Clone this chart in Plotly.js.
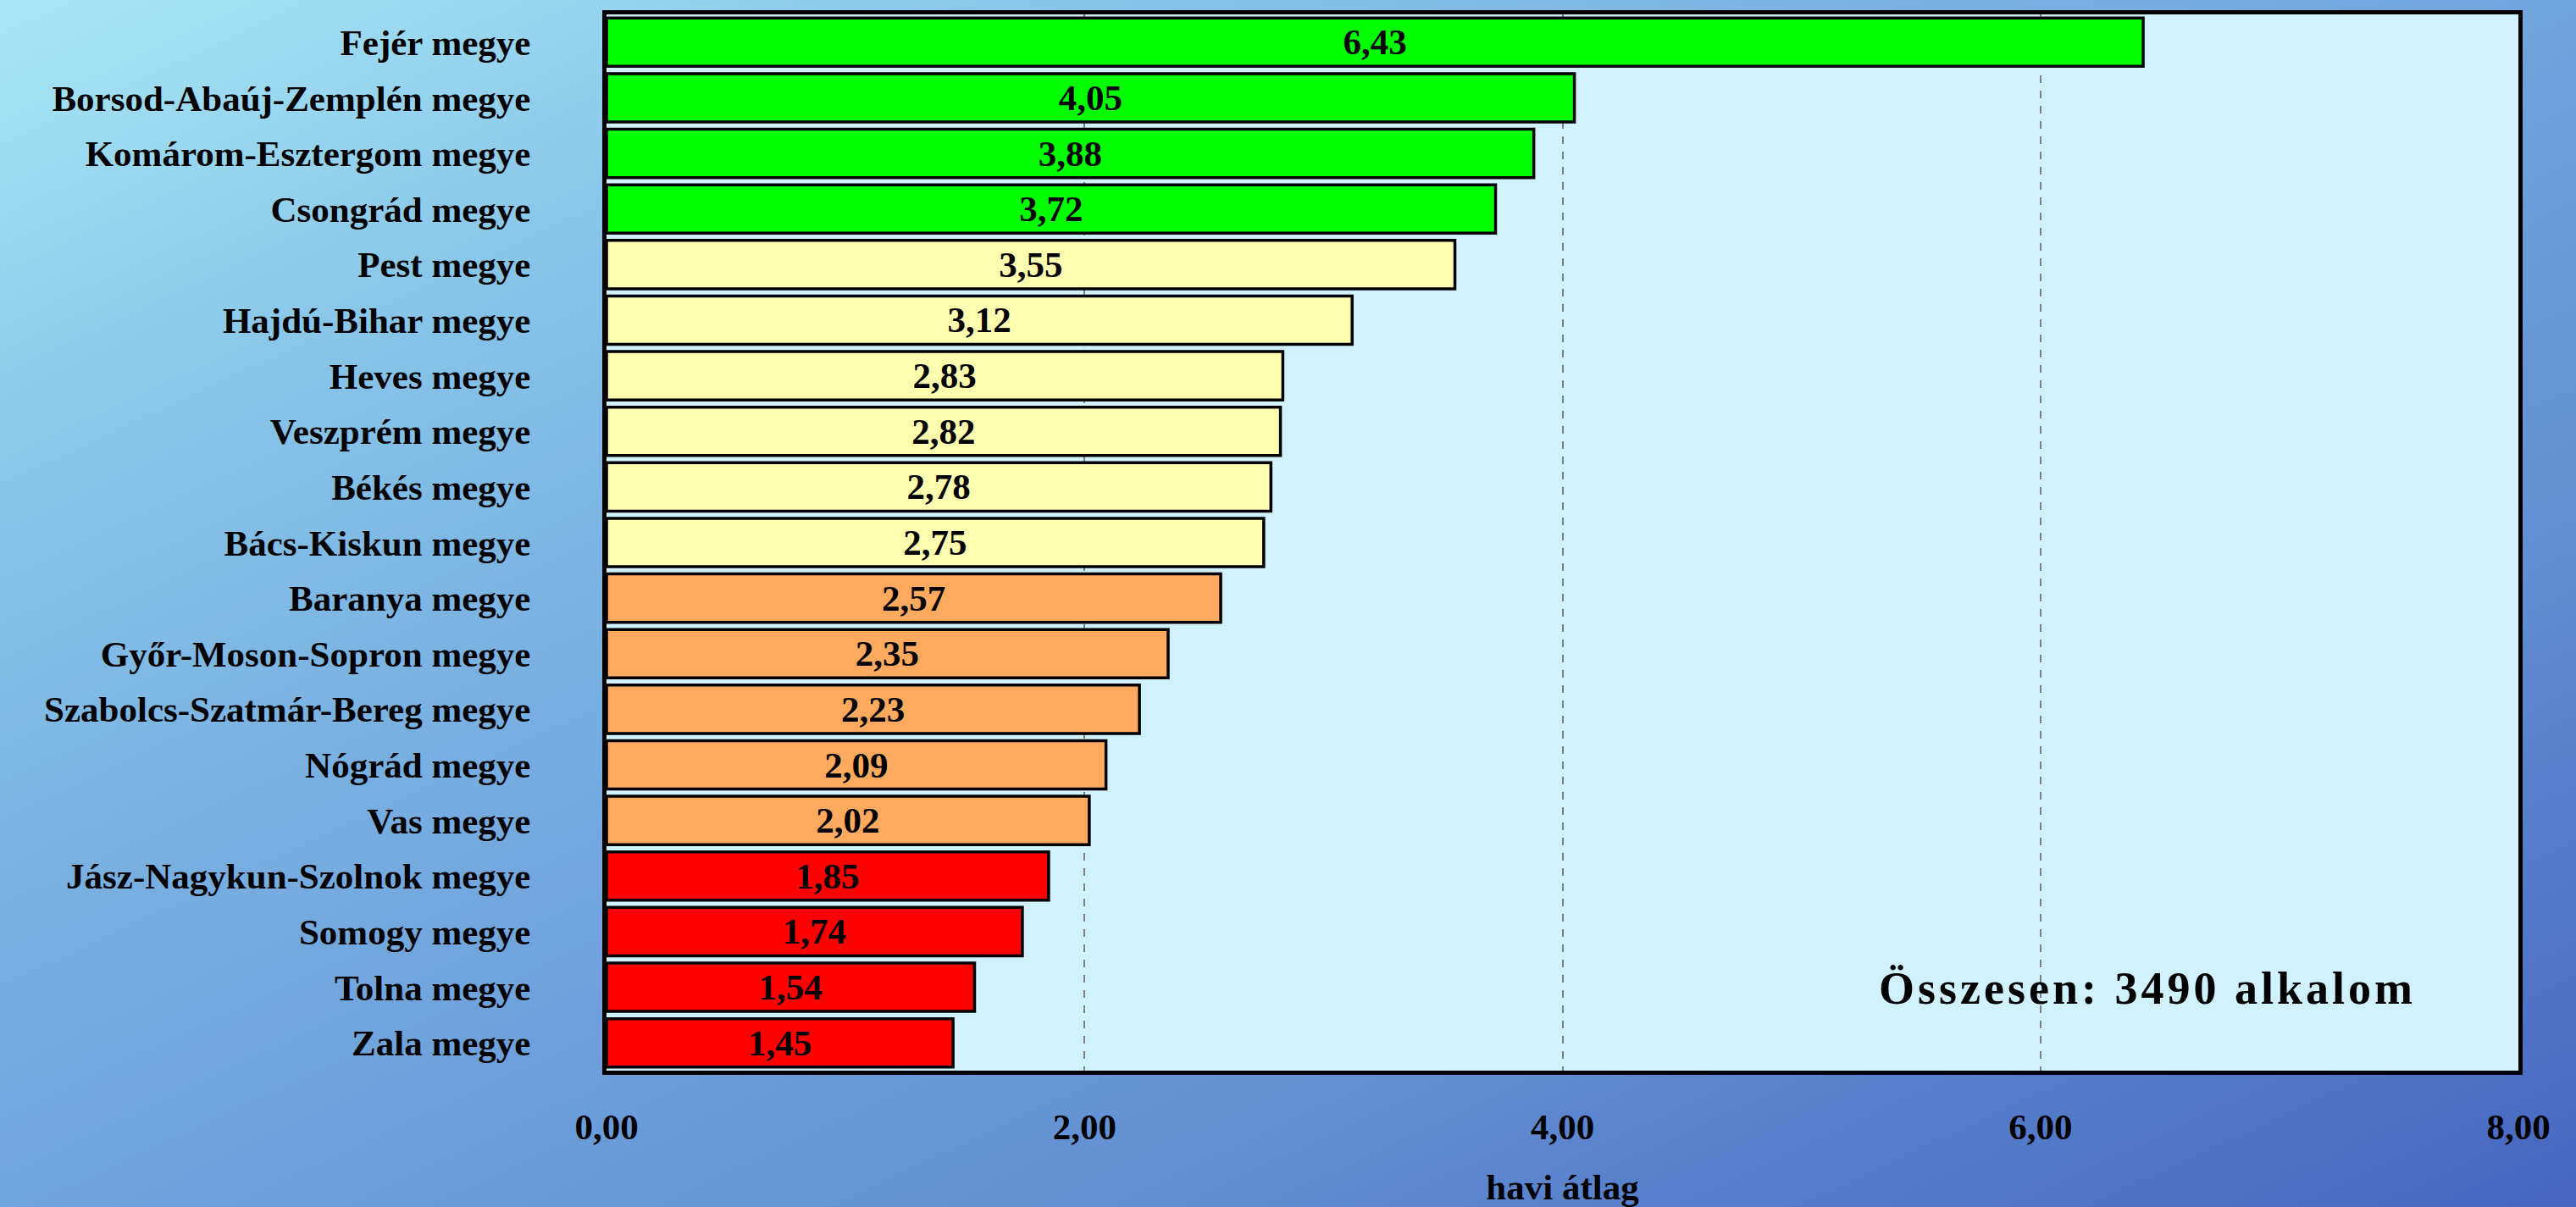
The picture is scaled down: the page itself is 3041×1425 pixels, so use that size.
<!DOCTYPE html>
<html>
<head>
<meta charset="utf-8">
<script src="https://cdn.plot.ly/plotly-3.0.1.min.js"></script>
<style>
  html, body { margin:0; padding:0; width:3041px; height:1425px; overflow:hidden; }
  body { background: linear-gradient(to bottom right, #a9e7f6 0%, #86c3e8 22%, #76ace0 42%, #6391d4 70%, #4666c0 100%); }
  #chart { width:3041px; height:1425px; }
  .annotation-text { letter-spacing: 4px; }
</style>
</head>
<body>
<div id="chart"></div>
<script>
const counties = [
  "Fejér megye", "Borsod-Abaúj-Zemplén megye", "Komárom-Esztergom megye", "Csongrád megye",
  "Pest megye", "Hajdú-Bihar megye", "Heves megye", "Veszprém megye", "Békés megye",
  "Bács-Kiskun megye", "Baranya megye", "Győr-Moson-Sopron megye", "Szabolcs-Szatmár-Bereg megye",
  "Nógrád megye", "Vas megye", "Jász-Nagykun-Szolnok megye", "Somogy megye", "Tolna megye", "Zala megye"
];
const monthlyAvg = [6.43, 4.05, 3.88, 3.72, 3.55, 3.12, 2.83, 2.82, 2.78, 2.75, 2.57, 2.35, 2.23, 2.09, 2.02, 1.85, 1.74, 1.54, 1.45];
const groupColors = ["#00ff00","#00ff00","#00ff00","#00ff00",
  "#ffffb0","#ffffb0","#ffffb0","#ffffb0","#ffffb0","#ffffb0",
  "#ffaa5e","#ffaa5e","#ffaa5e","#ffaa5e","#ffaa5e",
  "#ff0000","#ff0000","#ff0000","#ff0000"];
const xTicks = [0, 2, 4, 6, 8];
const totalText = "Összesen: 3490 alkalom";
const xTitle = "havi átlag";

const font = "'Liberation Serif', 'Times New Roman', serif";

const trace = {
  type: 'bar',
  orientation: 'h',
  x: monthlyAvg,
  y: counties,
  marker: { color: groupColors, line: { color: '#000000', width: 3.5 } },
  texttemplate: '<b>%{x:.2f}</b>',
  textposition: 'inside',
  insidetextanchor: 'middle',
  textangle: 0,
  constraintext: 'none',
  textfont: { family: font, size: 43, color: '#000000' },
  hoverinfo: 'skip'
};

const layout = {
  width: 3041, height: 1425,
  paper_bgcolor: 'rgba(0,0,0,0)',
  plot_bgcolor: '#d0f1fe',
  separators: ',.',
  margin: { l: 716, r: 68, t: 17, b: 161 },
  bargap: 0.13,
  showlegend: false,
  font: { family: font, color: '#000000' },
  xaxis: {
    range: [0, 8],
    tickvals: xTicks,
    tickformat: '.2f',
    tickfont: { family: font, size: 43, color: '#000000', weight: 'bold' },
    showgrid: true,
    gridcolor: '#7f7f7f',
    griddash: 'dash',
    gridwidth: 2,
    zeroline: false,
    showline: true,
    mirror: true,
    linecolor: '#000000',
    linewidth: 5,
    ticks: '',
    ticklabelstandoff: 24,
    automargin: false,
    title: { text: '<b>' + xTitle + '</b>', font: { family: font, size: 43, color: '#000000' }, standoff: 62 }
  },
  yaxis: {
    autorange: 'reversed',
    type: 'category',
    tickfont: { family: font, size: 43, color: '#000000', weight: 'bold' },
    showgrid: false,
    zeroline: false,
    showline: true,
    mirror: true,
    linecolor: '#000000',
    linewidth: 5,
    ticks: '',
    ticklabelstandoff: 76,
    automargin: false
  },
  annotations: [{
    xref: 'paper', yref: 'paper',
    x: 0.806, y: 0.078,
    xanchor: 'center', yanchor: 'middle',
    text: '<b>' + totalText + '</b>',
    showarrow: false,
    font: { family: font, size: 54, color: '#000000' }
  }]
};

Plotly.newPlot('chart', [trace], layout, { displayModeBar: false, staticPlot: true });
</script>
</body>
</html>
